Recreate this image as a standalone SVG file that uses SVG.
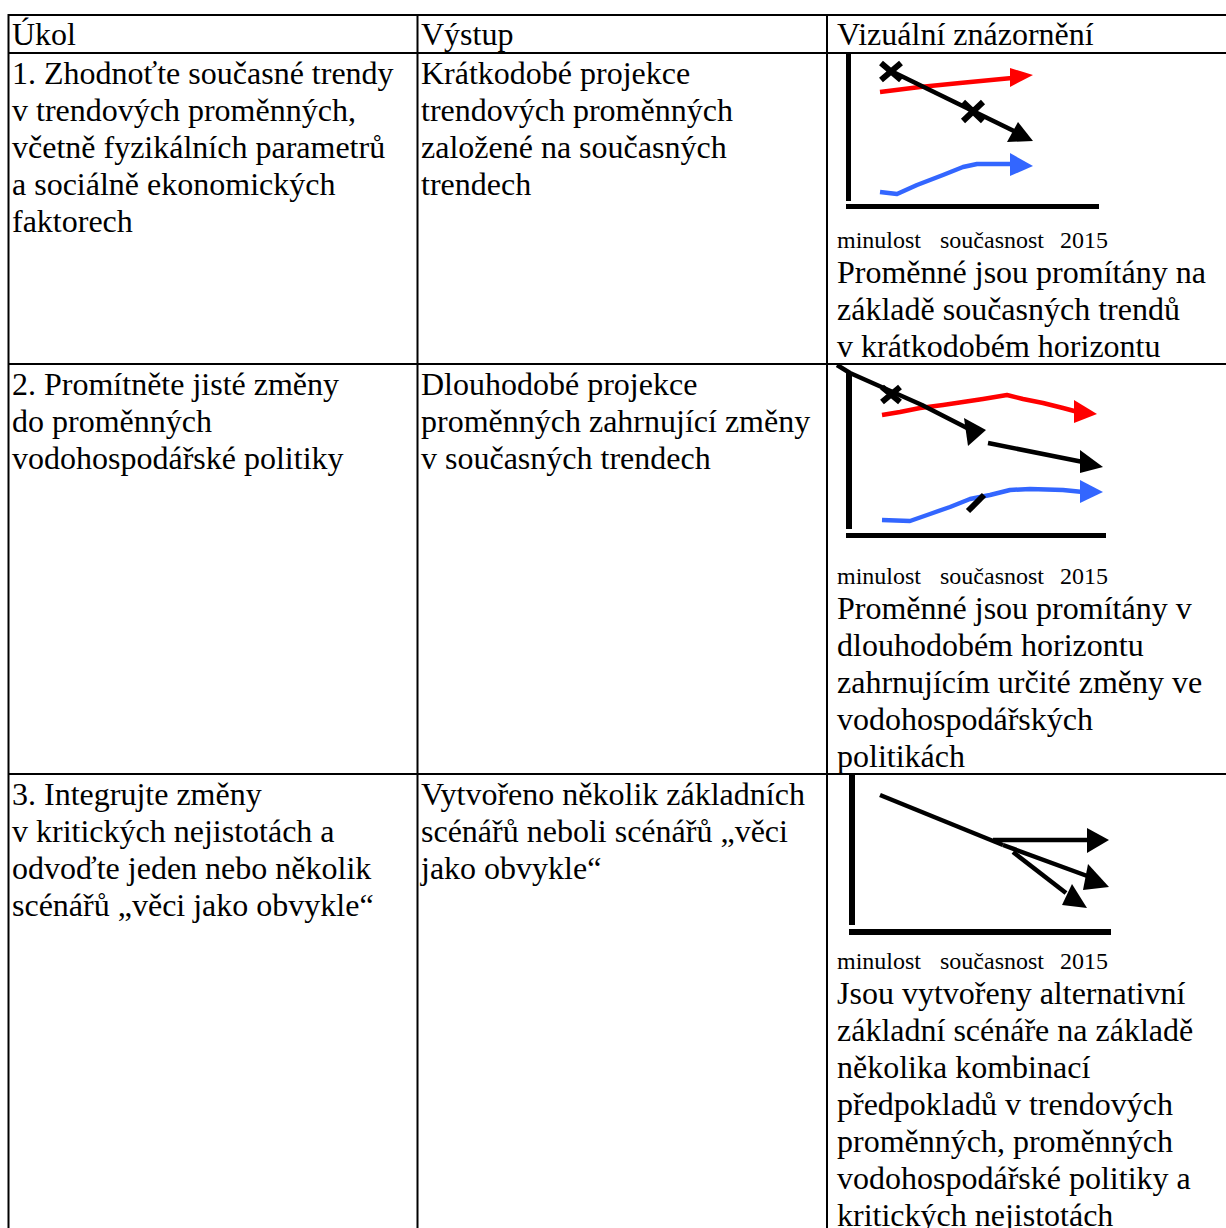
<svg xmlns="http://www.w3.org/2000/svg" width="1226" height="1228" viewBox="0 0 1226 1228">
<style>
.t{font-family:"Liberation Serif","Times New Roman",serif;font-size:32px;fill:#000}
.s{font-family:"Liberation Serif","Times New Roman",serif;font-size:24px;fill:#000}
.g{stroke:#000;stroke-width:2;fill:none}
.k{stroke:#000;stroke-width:4.5;fill:none;stroke-linejoin:round}
.x{stroke:#000;stroke-width:6;fill:none}
.r{stroke:#ff0000;stroke-width:4.5;fill:none;stroke-linejoin:round}
.b{stroke:#3366ff;stroke-width:4.5;fill:none;stroke-linejoin:round}
</style>
<rect width="1226" height="1228" fill="#fff"/>
<g id="grid">
<line class="g" x1="8.5" y1="15" x2="1226" y2="15"/>
<line class="g" x1="8.5" y1="53" x2="1226" y2="53"/>
<line class="g" x1="8.5" y1="364" x2="1226" y2="364"/>
<line class="g" x1="8.5" y1="774" x2="1226" y2="774"/>
<line class="g" x1="8.5" y1="14" x2="8.5" y2="1228"/>
<line class="g" x1="417.5" y1="14" x2="417.5" y2="1228"/>
<line class="g" x1="827" y1="14" x2="827" y2="1228"/>
</g>
<g id="header">
<text class="t" x="12" y="45">Úkol</text>
<text class="t" x="421" y="45">Výstup</text>
<text class="t" x="837" y="45">Vizuální znázornění</text>
</g>
<g id="row1">
<text class="t" x="12" y="84"><tspan x="12">1. Zhodnoťte současné trendy</tspan><tspan x="12" dy="37">v trendových proměnných,</tspan><tspan x="12" dy="37">včetně fyzikálních parametrů</tspan><tspan x="12" dy="37">a sociálně ekonomických</tspan><tspan x="12" dy="37">faktorech</tspan></text>
<text class="t" x="421" y="84"><tspan x="421">Krátkodobé projekce</tspan><tspan x="421" dy="37">trendových proměnných</tspan><tspan x="421" dy="37">založené na současných</tspan><tspan x="421" dy="37">trendech</tspan></text>
<g id="chart1">
<rect x="846" y="53" width="5" height="148" fill="#000"/>
<rect x="846" y="204" width="253" height="5" fill="#000"/>
<polyline class="r" points="880,92 920,87 960,83 1012,78"/>
<polygon points="1010,68 1033,75 1010,87" fill="#ff0000"/>
<polyline class="k" points="893,72 1024,136"/>
<path class="x" d="M881,63 L901,80 M901,63 L881,80 M963,102 L983,121 M983,102 L963,121"/>
<polygon points="1018,122 1007,142 1033,141" fill="#000"/>
<polyline class="b" points="880,192 897,194 917,185 943,175 963,167 977,164 1012,164"/>
<polygon points="1010,153 1033,166 1010,176" fill="#3366ff"/>
</g>
<text class="s" x="837" y="248"><tspan x="837">minulost</tspan><tspan x="940">současnost</tspan><tspan x="1060">2015</tspan></text>
<text class="t" x="837" y="283"><tspan x="837">Proměnné jsou promítány na</tspan><tspan x="837" dy="37">základě současných trendů</tspan><tspan x="837" dy="37">v krátkodobém horizontu</tspan></text>
</g>
<g id="row2">
<text class="t" x="12" y="395"><tspan x="12">2. Promítněte jisté změny</tspan><tspan x="12" dy="37">do proměnných</tspan><tspan x="12" dy="37">vodohospodářské politiky</tspan></text>
<text class="t" x="421" y="395"><tspan x="421">Dlouhodobé projekce</tspan><tspan x="421" dy="37">proměnných zahrnující změny</tspan><tspan x="421" dy="37">v současných trendech</tspan></text>
<g id="chart2">
<rect x="846" y="373" width="6" height="156" fill="#000"/>
<rect x="846" y="533" width="260" height="5" fill="#000"/>
<polyline class="r" points="882,415 900,412 920,408 943,405 963,402 983,399 1007,395 1023,399 1043,403 1063,408 1078,412"/>
<polygon points="1074,400 1097,414 1074,423" fill="#ff0000"/>
<polyline class="k" points="837,365 850,373 922,405 967,428"/>
<path class="x" d="M882,387 L900,402 M900,387 L882,402"/>
<polygon points="964,418 986,430 968,446" fill="#000"/>
<polyline class="k" points="988,443 1083,462"/>
<polygon points="1080,450 1103,467 1080,473" fill="#000"/>
<polyline class="b" points="882,520 910,521 930,514 950,507 970,499 990,495 1010,490 1030,489 1063,490 1083,492"/>
<polygon points="1080,480 1103,492 1080,503" fill="#3366ff"/>
<line class="x" x1="968" y1="511" x2="984" y2="495"/>
</g>
<text class="s" x="837" y="584"><tspan x="837">minulost</tspan><tspan x="940">současnost</tspan><tspan x="1060">2015</tspan></text>
<text class="t" x="837" y="619"><tspan x="837">Proměnné jsou promítány v</tspan><tspan x="837" dy="37">dlouhodobém horizontu</tspan><tspan x="837" dy="37">zahrnujícím určité změny ve</tspan><tspan x="837" dy="37">vodohospodářských</tspan><tspan x="837" dy="37">politikách</tspan></text>
</g>
<g id="row3">
<text class="t" x="12" y="805"><tspan x="12">3. Integrujte změny</tspan><tspan x="12" dy="37">v kritických nejistotách a</tspan><tspan x="12" dy="37">odvoďte jeden nebo několik</tspan><tspan x="12" dy="37">scénářů „věci jako obvykle“</tspan></text>
<text class="t" x="421" y="805"><tspan x="421">Vytvořeno několik základních</tspan><tspan x="421" dy="37">scénářů neboli scénářů „věci</tspan><tspan x="421" dy="37">jako obvykle“</tspan></text>
<g id="chart3">
<rect x="849" y="775" width="6" height="150" fill="#000"/>
<rect x="849" y="929" width="262" height="6" fill="#000"/>
<polyline class="k" points="880,795 1003,845"/>
<line class="k" x1="993" y1="840" x2="1090" y2="840"/>
<polygon points="1087,828 1109,840 1087,853" fill="#000"/>
<line class="k" x1="1003" y1="845" x2="1090" y2="877"/>
<polygon points="1088,864 1109,887 1083,890" fill="#000"/>
<line class="k" x1="1013" y1="852" x2="1066" y2="893"/>
<polygon points="1072,884 1087,908 1062,905" fill="#000"/>
</g>
<text class="s" x="837" y="969"><tspan x="837">minulost</tspan><tspan x="940">současnost</tspan><tspan x="1060">2015</tspan></text>
<text class="t" x="837" y="1004"><tspan x="837">Jsou vytvořeny alternativní</tspan><tspan x="837" dy="37">základní scénáře na základě</tspan><tspan x="837" dy="37">několika kombinací</tspan><tspan x="837" dy="37">předpokladů v trendových</tspan><tspan x="837" dy="37">proměnných, proměnných</tspan><tspan x="837" dy="37">vodohospodářské politiky a</tspan><tspan x="837" dy="37">kritických nejistotách</tspan></text>
</g>
</svg>
